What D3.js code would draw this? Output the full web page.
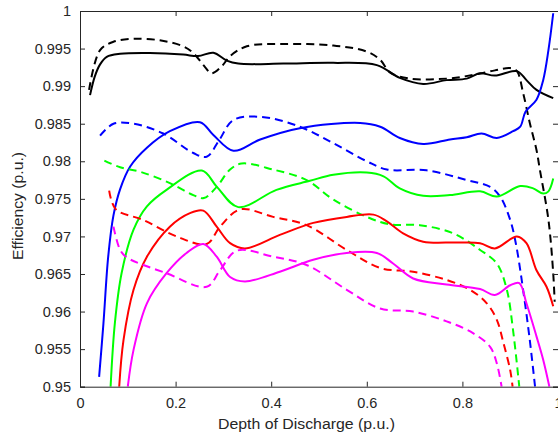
<!DOCTYPE html>
<html><head><meta charset="utf-8">
<script src="https://cdn.jsdelivr.net/npm/d3@7"></script>
<style>body{margin:0;background:#fff}svg{display:block}text{font-family:"Liberation Sans",Arial,sans-serif;fill:#262626}</style>
</head><body><svg id="c" width="558" height="435"></svg>
<script>
const xTicks=[0,0.2,0.4,0.6,0.8,1];
const yTicks=[0.95,0.955,0.96,0.965,0.97,0.975,0.98,0.985,0.99,0.995,1];
const yTickLabels=["0.95","0.955","0.96","0.965","0.97","0.975","0.98","0.985","0.99","0.995","1"];
const xLabel="Depth of Discharge (p.u.)";
const yLabel="Efficiency (p.u.)";

const blackSolid=[[0.021,0.9888],[0.031,0.9913],[0.042,0.9929],[0.056,0.9939],[0.084,0.9943],[0.146,0.9944],[0.216,0.9942],[0.247,0.9940],[0.279,0.99444],[0.307,0.9934],[0.331,0.9930],[0.425,0.9930],[0.53,0.9931],[0.621,0.9928],[0.669,0.9911],[0.718,0.9903],[0.767,0.9908],[0.809,0.9910],[0.837,0.9917],[0.868,0.9914],[0.914,0.9920],[0.934,0.9908],[0.955,0.9895],[0.99,0.9884]];
const blackDashed=[[0.019,0.9895],[0.042,0.9948],[0.07,0.9959],[0.112,0.9963],[0.167,0.9961],[0.216,0.9953],[0.237,0.9944],[0.262,0.9925],[0.275,0.9917],[0.296,0.9926],[0.314,0.9940],[0.349,0.9953],[0.425,0.9956],[0.53,0.9954],[0.6,0.9946],[0.628,0.9935],[0.649,0.9918],[0.69,0.9910],[0.767,0.9910],[0.823,0.9915],[0.868,0.9921],[0.9,0.9924],[0.914,0.9920],[0.927,0.9891],[0.941,0.9851],[0.955,0.9815],[0.962,0.9789],[0.98,0.9722],[0.99,0.9651],[0.993,0.9613]];
const blueSolid=[[0.040,0.9513],[0.049,0.9584],[0.059,0.9673],[0.070,0.9728],[0.084,0.9763],[0.105,0.9793],[0.14,0.9818],[0.188,0.9840],[0.251,0.9852],[0.279,0.9835],[0.321,0.9814],[0.377,0.9829],[0.46,0.9844],[0.586,0.9851],[0.628,0.9846],[0.669,0.9831],[0.718,0.9823],[0.774,0.9829],[0.809,0.9832],[0.840,0.9837],[0.872,0.9831],[0.906,0.9840],[0.921,0.9846],[0.932,0.9866],[0.955,0.9882],[0.969,0.9908],[0.980,0.9948],[0.99,0.9997]];
const blueDashed=[[0.042,0.9834],[0.070,0.9850],[0.112,0.9850],[0.174,0.9837],[0.237,0.9811],[0.265,0.9806],[0.291,0.9828],[0.321,0.9855],[0.38,0.9859],[0.46,0.9846],[0.53,0.9824],[0.6,0.9800],[0.642,0.9789],[0.725,0.9788],[0.809,0.9775],[0.858,0.9766],[0.879,0.9753],[0.9,0.9722],[0.912,0.9690],[0.927,0.9629],[0.941,0.9562],[0.952,0.9500]];
const greenSolid=[[0.064,0.9500],[0.073,0.9585],[0.087,0.9651],[0.112,0.9709],[0.14,0.9740],[0.181,0.9762],[0.255,0.97876],[0.286,0.97663],[0.331,0.9739],[0.411,0.9762],[0.481,0.9774],[0.53,0.9782],[0.6,0.9785],[0.635,0.9780],[0.669,0.9764],[0.718,0.9754],[0.774,0.9755],[0.837,0.9760],[0.872,0.9753],[0.921,0.9767],[0.948,0.9764],[0.969,0.9757],[0.98,0.9760],[0.99,0.9777]];
const greenDashed=[[0.051,0.9801],[0.084,0.9792],[0.126,0.9786],[0.188,0.9771],[0.237,0.9755],[0.259,0.9751],[0.286,0.9766],[0.314,0.9789],[0.338,0.9797],[0.404,0.9789],[0.474,0.9775],[0.53,0.9749],[0.6,0.9726],[0.649,0.9716],[0.711,0.9715],[0.781,0.9704],[0.837,0.9682],[0.872,0.9664],[0.893,0.9629],[0.906,0.9575],[0.919,0.9500]];
const redSolid=[[0.082,0.9500],[0.091,0.9562],[0.112,0.9629],[0.140,0.9673],[0.188,0.9713],[0.230,0.9731],[0.258,0.97343],[0.286,0.9713],[0.314,0.9691],[0.345,0.9684],[0.418,0.9702],[0.488,0.9718],[0.558,0.9726],[0.614,0.9729],[0.642,0.9720],[0.676,0.9704],[0.718,0.9693],[0.788,0.9692],[0.837,0.9691],[0.868,0.9684],[0.914,0.9700],[0.934,0.9691],[0.955,0.9655],[0.976,0.9633],[0.99,0.9607]];
const redDashed=[[0.061,0.9761],[0.075,0.9736],[0.132,0.9722],[0.202,0.9700],[0.265,0.9690],[0.293,0.9713],[0.335,0.9736],[0.404,0.9726],[0.474,0.9715],[0.558,0.9682],[0.628,0.9658],[0.697,0.9653],[0.767,0.9642],[0.816,0.9629],[0.851,0.9611],[0.872,0.9589],[0.886,0.9558],[0.9,0.9522],[0.905,0.9500]];
const magentaSolid=[[0.100,0.9500],[0.112,0.9549],[0.140,0.9611],[0.181,0.9651],[0.223,0.9678],[0.258,0.9690],[0.286,0.9673],[0.314,0.9646],[0.345,0.9640],[0.418,0.9653],[0.488,0.9669],[0.558,0.9678],[0.621,0.9678],[0.655,0.9664],[0.697,0.9644],[0.767,0.9636],[0.837,0.9630],[0.868,0.9622],[0.9,0.9635],[0.919,0.9638],[0.934,0.9611],[0.955,0.9567],[0.969,0.9536],[0.982,0.9500]];
const magentaDashed=[[0.070,0.9713],[0.084,0.9682],[0.098,0.9672],[0.181,0.9651],[0.265,0.9633],[0.293,0.9655],[0.328,0.9681],[0.404,0.9673],[0.474,0.9662],[0.558,0.9629],[0.628,0.9604],[0.697,0.9600],[0.767,0.9587],[0.823,0.9571],[0.858,0.9553],[0.872,0.9531],[0.882,0.9500]];

const series=[
 {d:blackSolid,c:"#000000",dash:null},
 {d:blackDashed,c:"#000000",dash:"8,5"},
 {d:blueSolid,c:"#0000ff",dash:null},
 {d:blueDashed,c:"#0000ff",dash:"8,5"},
 {d:greenSolid,c:"#00ff00",dash:null},
 {d:greenDashed,c:"#00ff00",dash:"8,5"},
 {d:redSolid,c:"#ff0000",dash:null},
 {d:redDashed,c:"#ff0000",dash:"8,5"},
 {d:magentaSolid,c:"#ff00ff",dash:null},
 {d:magentaDashed,c:"#ff00ff",dash:"8,5"}
];

const L=80,R=558,T=11,B=386.7;
const x=d3.scaleLinear().domain([0,1]).range([L,R]);
const y=d3.scaleLinear().domain([0.95,1]).range([B,T]);
const svg=d3.select("#c");
svg.append("defs").append("clipPath").attr("id","clip").append("rect").attr("x",L).attr("y",T).attr("width",R-L).attr("height",B-T);

const line=d3.line().x(d=>x(d[0])).y(d=>y(d[1])).curve(d3.curveCatmullRom.alpha(0.5));
const g=svg.append("g").attr("clip-path","url(#clip)");
series.forEach(s=>{
  g.append("path").attr("d",line(s.d)).attr("fill","none").attr("stroke",s.c).attr("stroke-width",2).attr("stroke-dasharray",s.dash);
});

const ax="#262626";
const fs=14.5;
const xb=svg.append("g").attr("transform",`translate(0,${B})`).call(d3.axisBottom(x).tickValues(xTicks).tickSize(-5).tickPadding(11).tickFormat(d3.format("")));
const xt=svg.append("g").attr("transform",`translate(0,${T})`).call(d3.axisTop(x).tickValues(xTicks).tickSize(-5).tickFormat(""));
const yl=svg.append("g").attr("transform",`translate(${L},0)`).call(d3.axisLeft(y).tickValues(yTicks).tickSize(-5).tickPadding(9).tickFormat((d,i)=>yTickLabels[i]));
const yr=svg.append("g").attr("transform",`translate(${R},0)`).call(d3.axisRight(y).tickValues(yTicks).tickSize(-5).tickFormat(""));
[xb,xt,yl,yr].forEach(a=>{
  a.selectAll("path").attr("stroke",ax).attr("stroke-width",1);
  a.selectAll("line").attr("stroke",ax);
  a.selectAll("text").attr("font-size",fs).attr("font-family","Liberation Sans, Arial, sans-serif").attr("fill",ax);
});
svg.append("text").attr("x",306.5).attr("y",428.5).attr("text-anchor","middle").attr("font-size",15.5).attr("textLength",177).attr("lengthAdjust","spacingAndGlyphs").text(xLabel);
svg.append("text").attr("transform",`translate(22.5,206) rotate(-90)`).attr("text-anchor","middle").attr("font-size",15.5).attr("textLength",108).attr("lengthAdjust","spacingAndGlyphs").text(yLabel);
</script></body></html>
